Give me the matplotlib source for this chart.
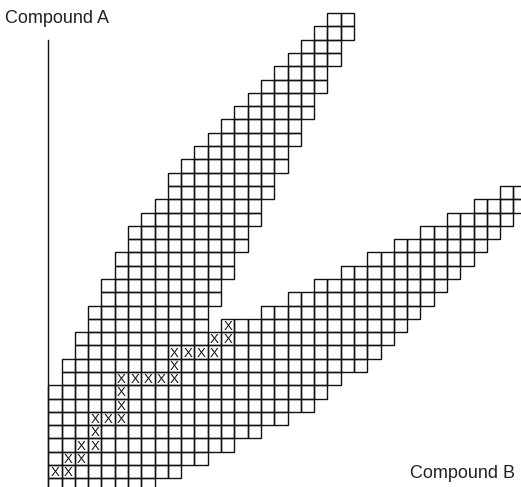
import matplotlib
matplotlib.use("Agg")
import matplotlib.pyplot as plt
from matplotlib.patches import Rectangle

plt.rcParams['font.family'] = ['Liberation Sans', 'DejaVu Sans']

# ---- data: grid rows (Compound A level) and column spans (Compound B level) ----
rows = list(range(36))
band_a_start = [0, 0, 0, 0, 0, 0, 0, 0, 1, 1, 2, 2, 3, 3, 4, 4, 5, 5,
                6, 6, 7, 8, 9, 9, 10, 11, 12, 13, 14, 15, 16, 17, 18, 19, 20, 21]
band_a_end = [8, 10, 12, 14, 16, 18, 20, 21, 22, 24, 25, 26, 12, 12, 13, 13, 14, 14,
              15, 15, 16, 16, 17, 17, 18, 18, 19, 19, 20, 20, 21, 21, 22, 22, 23, 23]

band_b_rows = list(range(12, 23))
band_b_start = [13, 16, 18, 20, 22, 24, 26, 28, 30, 32, 34]
band_b_end = [27, 28, 29, 30, 31, 32, 33, 34, 35, 36, 36]

# marked cells
x_cols = [0, 1, 1, 2, 2, 3, 3, 3, 4, 5, 5, 5, 5, 6, 7, 8, 9, 9, 9, 10, 11, 12, 12, 13, 13]
x_rows = [1, 1, 2, 2, 3, 3, 4, 5, 5, 5, 6, 7, 8, 8, 8, 8, 8, 9, 10, 10, 10, 10, 11, 11, 12]

axis_top = 34
y_label = "Compound A"
x_label = "Compound B"

# ---- figure ----
W, H = 521, 487
cell_px = 13.29
x0_px = 48.3
y0_px = 491.6  # pixel row of grid bottom (from top)

fig = plt.figure(figsize=(W / 100, H / 100), dpi=100)
ax = fig.add_axes([0, 0, 1, 1])
ax.set_xlim(-x0_px / cell_px, (W - x0_px) / cell_px)
ax.set_ylim((y0_px - H) / cell_px, y0_px / cell_px)

line_col = "#111111"
lw = 1.0

def draw_span(r, c0, c1):
    for c in range(c0, c1):
        ax.add_patch(Rectangle((c, r), 1, 1, facecolor="none",
                               edgecolor=line_col, linewidth=lw))

for r, s, e in zip(rows, band_a_start, band_a_end):
    draw_span(r, s, e)
for r, s, e in zip(band_b_rows, band_b_start, band_b_end):
    draw_span(r, s, e)

for c, r in zip(x_cols, x_rows):
    ax.text(c + 0.5, r + 0.16, "X", ha="center", va="baseline",
            fontsize=9.5, color=line_col)

# axis line
for s in ["top", "right", "bottom"]:
    ax.spines[s].set_visible(False)
ax.spines["left"].set_position(("data", 0))
ax.spines["left"].set_bounds(ax.get_ylim()[0], axis_top)
ax.spines["left"].set_color(line_col)
ax.spines["left"].set_linewidth(1.0)
ax.set_xticks([])
ax.set_yticks([])
ax.patch.set_alpha(0)

fig.text(5 / W, 1 - 23.3 / H, y_label, ha="left", va="baseline",
         fontsize=13, color="#222222")
fig.text(410 / W, 1 - 477.7 / H, x_label, ha="left", va="baseline",
         fontsize=13, color="#222222")

fig.savefig("out.png", dpi=100)
